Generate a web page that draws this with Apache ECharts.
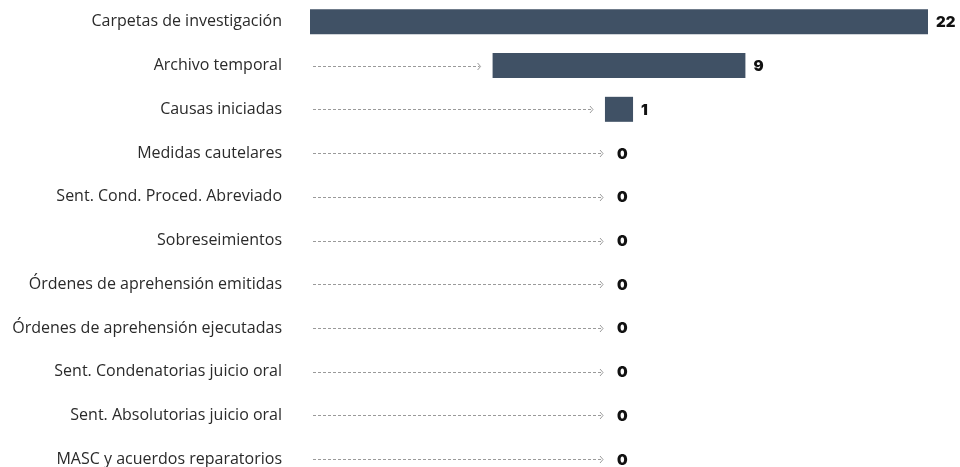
<!DOCTYPE html>
<html><head><meta charset="utf-8">
<script src="https://cdn.jsdelivr.net/npm/echarts@6/dist/echarts.min.js"></script>
<style>html,body{margin:0;padding:0;background:#fff}#c{width:960px;height:467px}</style>
</head><body><div id="c"></div>
<script>
const categories = ["Carpetas de investigación","Archivo temporal","Causas iniciadas","Medidas cautelares","Sent. Cond. Proced. Abreviado","Sobreseimientos","Órdenes de aprehensión emitidas","Órdenes de aprehensión ejecutadas","Sent. Condenatorias juicio oral","Sent. Absolutorias juicio oral","MASC y acuerdos reparatorios"];
const values = [22,9,1,0,0,0,0,0,0,0,0];
const maxVal = 22;

const offsets = values.map(v => (maxVal - v) / 2);
const chart = echarts.init(document.getElementById('c'));
chart.setOption({
  animation: false,
  grid: {left: 310, right: 32, top: 0, height: 481, outerBoundsMode: 'none'},
  xAxis: {type: 'value', min: 0, max: maxVal, show: false},
  yAxis: {type: 'category', data: categories, inverse: true,
    axisLine: {show: false}, axisTick: {show: false}, splitLine: {show: false},
    axisLabel: {margin: 28, color: '#2a2a2a', fontFamily: 'Open Sans', fontSize: 16}},
  series: [
    {type: 'bar', stack: 's', data: offsets, barWidth: 25, itemStyle: {color: 'transparent'}, silent: true},
    {type: 'bar', stack: 's', barWidth: 25,
      data: values.map(v => ({value: v, label: {offset: v === 0 ? [-10, 1] : [0, 1]}})),
      itemStyle: {color: '#405165'},
      label: {show: true, position: 'right', distance: 8, color: '#111', fontFamily: 'Inter', fontWeight: 900, fontSize: 15}},
    {type: 'custom', data: values.map((v, i) => [offsets[i], i, v]),
      encode: {x: 0, y: 1},
      renderItem: function (params, api) {
        const v = api.value(2);
        if (v >= maxVal) return null;
        const p = api.coord([api.value(0), api.value(1)]);
        const x0 = 313;
        const x1 = p[0] - (v > 0 ? 12 : 16);
        const y = Math.round(p[1]) + 0.5;
        return {type: 'group', children: [
          {type: 'line', shape: {x1: x0, y1: y, x2: x1 - 1, y2: y},
            style: {stroke: '#9a9a9a', lineWidth: 1, lineDash: [3, 2]}},
          {type: 'polyline', shape: {points: [[x1 - 3, y - 3.5], [x1, y], [x1 - 3, y + 3.5]]},
            style: {stroke: '#9a9a9a', lineWidth: 1, fill: null}}
        ]};
      }}
  ]
});
</script></body></html>
